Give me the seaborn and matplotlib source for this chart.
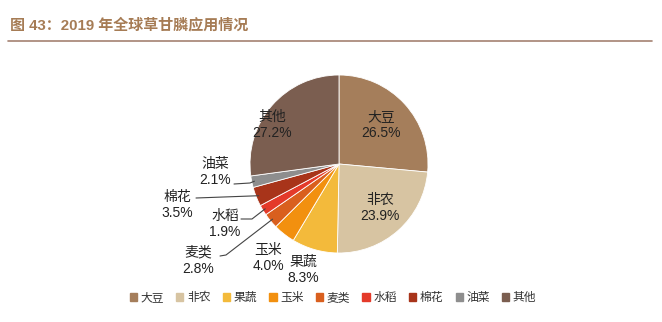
import numpy as np
import matplotlib
matplotlib.use("Agg")
import matplotlib.pyplot as plt
import seaborn as sns

categories = ["大豆", "非农", "果蔬", "玉米", "麦类", "水稻", "棉花", "油菜", "其他"]
values = [26.5, 23.9, 8.3, 4.0, 2.8, 1.9, 3.5, 2.1, 27.2]
value_labels = ["26.5%", "23.9%", "8.3%", "4.0%", "2.8%", "1.9%", "3.5%", "2.1%", "27.2%"]
colors = ["#A57E5B", "#D7C4A2", "#F3BA3B", "#F2900F", "#D95F1E", "#E43A2A",
          "#A8341A", "#8E8E8E", "#7B5E50"]
title = "图 43：2019 年全球草甘膦应用情况"

sns.set_theme(style="white")
plt.rcParams["font.family"] = ["Liberation Sans", "Noto Sans CJK SC", "DejaVu Sans"]

W, H = 662, 322
fig = plt.figure(figsize=(W / 100, H / 100), dpi=100)
fig.patch.set_facecolor("white")

# title and rule
fig.text(10 / W, 1 - 25 / H, title, fontsize=10.8, fontweight="bold", color="#A67C55",
         ha="left", va="center", family=["Liberation Sans", "Noto Sans CJK SC"])
fig.add_artist(plt.Line2D([8 / W, 652 / W], [1 - 41 / H, 1 - 41 / H],
                          color="#A48272", lw=1.2))

cx, cy, r = 339, 164, 89
ax = fig.add_axes([(cx - r) / W, 1 - (cy + r) / H, 2 * r / W, 2 * r / H])
wedges, _ = ax.pie(values, colors=colors, startangle=90, counterclock=False,
                   radius=1, wedgeprops=dict(edgecolor="white", linewidth=0.6))
ax.set_xlim(-1, 1)
ax.set_ylim(-1, 1)
ax.set_aspect("auto")
ax.axis("off")

def px(x, y):
    return ((x - cx) / r, (cy - y) / r)

# label centers (pixel layout positions)
label_pos = {
    "大豆": (381, 125), "非农": (380, 208), "果蔬": (303, 270), "玉米": (268, 258),
    "麦类": (198, 261), "水稻": (225, 224), "棉花": (177, 205), "油菜": (215, 172),
    "其他": (272, 125),
}
for cat, val in zip(categories, value_labels):
    x, y = px(*label_pos[cat])
    ax.text(x, y, f"{cat}\n{val}", ha="center", va="center", fontsize=10,
            color="#222222", linespacing=1.2, clip_on=False)

# leader lines: elbow positions (layout) to wedge mid-angle on the rim
elbows = {
    "油菜": [(234, 184), (250, 183)],
    "棉花": [(196, 198)],
    "水稻": [(241, 219), (252, 219)],
    "麦类": [(220, 256), (226, 255)],
}
for w, cat in zip(wedges, categories):
    if cat not in elbows:
        continue
    ang = np.deg2rad((w.theta1 + w.theta2) / 2)
    end = (0.97 * np.cos(ang), 0.97 * np.sin(ang))
    pts = [px(*p) for p in elbows[cat]] + [end]
    xs, ys = zip(*pts)
    ax.plot(xs, ys, color="#444444", lw=0.8, clip_on=False)

# legend
handles = [plt.Rectangle((0, 0), 1, 1, color=c) for c in colors]
fig.legend(handles, categories, loc="center", bbox_to_anchor=(333 / W, 1 - 298 / H),
           ncol=len(categories), frameon=False, fontsize=8.5, handlelength=0.6,
           handleheight=0.6, handletextpad=0.3, columnspacing=1.05,
           labelcolor="#333333")

fig.savefig("out.png", dpi=100, facecolor="white")
